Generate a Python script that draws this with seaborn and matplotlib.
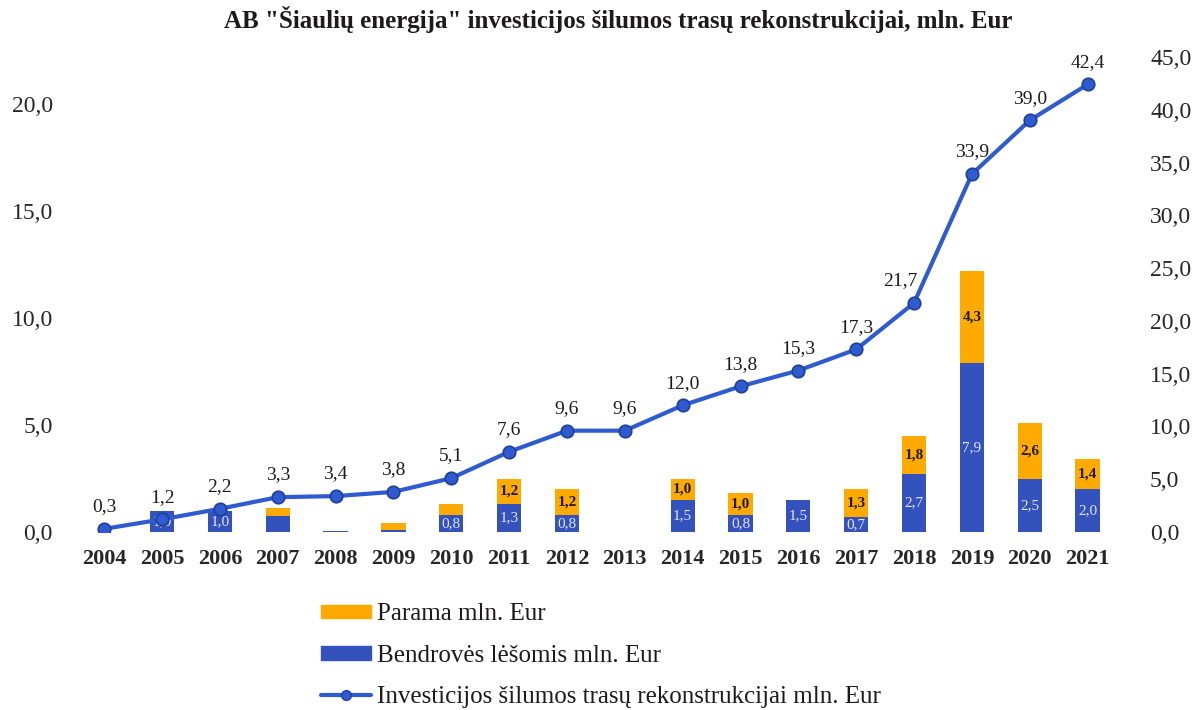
import numpy as np
import pandas as pd
import seaborn as sns
import matplotlib.pyplot as plt
from matplotlib.patches import Patch
from matplotlib.lines import Line2D

# --- data (mln. Eur) ---
years = ['2004', '2005', '2006', '2007', '2008', '2009', '2010', '2011', '2012',
         '2013', '2014', '2015', '2016', '2017', '2018', '2019', '2020', '2021']
own_funds = [0.0, 1.0, 1.0, 0.75, 0.05, 0.1, 0.8, 1.3, 0.8,
             0.0, 1.5, 0.8, 1.5, 0.7, 2.7, 7.9, 2.5, 2.0]
support = [0.0, 0.0, 0.0, 0.35, 0.0, 0.3, 0.5, 1.2, 1.2,
           0.0, 1.0, 1.0, 0.0, 1.3, 1.8, 4.3, 2.6, 1.4]
cumulative = [0.3, 1.2, 2.2, 3.3, 3.4, 3.8, 5.1, 7.6, 9.6,
              9.6, 12.0, 13.8, 15.3, 17.3, 21.7, 33.9, 39.0, 42.4]
# which segments carry a value label
own_labelled = [False, True, True, False, False, False, True, True, True,
                False, True, True, True, True, True, True, True, True]
support_labelled = [False, False, False, False, False, False, False, True, True,
                    False, True, True, False, True, True, True, True, True]

BLUE = '#3452bd'
ORANGE = '#ffaa00'
LINE = '#2f5bd0'
TXT = '#1c1a1a'

sns.set_style('white')
plt.rcParams['font.family'] = ['Liberation Serif', 'DejaVu Serif']
plt.rcParams['text.color'] = TXT

df = pd.DataFrame({'year': years, 'own': own_funds, 'support': support})
df['total'] = df['own'] + df['support']

fig = plt.figure(figsize=(11.99, 7.10), dpi=100)
ax = fig.add_axes([0.058, 0.2507, 0.878, 0.669])

# stacked bars: total in orange, own funds drawn over it in blue
sns.barplot(data=df, x='year', y='total', order=years, color=ORANGE,
            width=0.42, saturation=1, linewidth=0, ax=ax)
sns.barplot(data=df, x='year', y='own', order=years, color=BLUE,
            width=0.42, saturation=1, linewidth=0, ax=ax)

def fmt(v):
    return f'{v:.1f}'.replace('.', ',')

for i in range(len(years)):
    if own_labelled[i]:
        ax.text(i, own_funds[i] / 2, fmt(own_funds[i]), ha='center', va='center',
                fontsize=11, color='#e6e6f5')
    if support_labelled[i]:
        ax.text(i, own_funds[i] + support[i] / 2, fmt(support[i]), ha='center',
                va='center', fontsize=11, fontweight='bold', color=TXT)

ax.set_ylim(0, 22.2)
ax.set_xlim(-0.6, len(years) - 0.4)
ax.set_yticks([0, 5, 10, 15, 20])
ax.set_yticklabels([fmt(v) for v in [0, 5, 10, 15, 20]], fontsize=17)
ax.set_xticks(range(len(years)))
ax.set_xticklabels(years, fontsize=16, fontweight='bold')
ax.tick_params(axis='both', length=0, pad=12)
ax.set_xlabel('')
ax.set_ylabel('')

# cumulative line on the right axis
ax2 = ax.twinx()
sns.lineplot(x=np.arange(len(years)), y=cumulative, ax=ax2, color=LINE,
             linewidth=3, marker='o', markersize=9, markeredgecolor='#1f3f9a',
             markeredgewidth=1.2, markerfacecolor=LINE)
ax2.set_ylim(0, 45)
ticks2 = np.arange(0, 46, 5)
ax2.set_yticks(ticks2)
ax2.set_yticklabels([fmt(v) for v in ticks2], fontsize=17)
ax2.tick_params(axis='y', length=0, pad=20)
ax2.set_xlim(ax.get_xlim())

for i, v in enumerate(cumulative):
    dx = -10 if years[i] == '2018' else 0
    ax2.annotate(fmt(v), (i, v), textcoords='offset points', xytext=(dx, 16),
                 ha='center', va='center', fontsize=14, color=TXT)

for a in (ax, ax2):
    for s in a.spines.values():
        s.set_visible(False)

fig.text(0.516, 0.972, 'AB "Šiaulių energija" investicijos šilumos trasų rekonstrukcijai, mln. Eur',
         ha='center', va='center', fontsize=18, fontweight='bold')

handles = [Patch(color=ORANGE), Patch(color=BLUE),
           Line2D([], [], color=LINE, linewidth=3, marker='o', markersize=7,
                  markerfacecolor=LINE, markeredgecolor='#1f3f9a')]
labels = ['Parama mln. Eur', 'Bendrovės lėšomis mln. Eur',
          'Investicijos šilumos trasų rekonstrukcijai mln. Eur']
fig.legend(handles, labels, loc='upper left', bbox_to_anchor=(0.257, 0.168),
           frameon=False, fontsize=18, handlelength=2.0, handleheight=0.45,
           handletextpad=0.25, labelspacing=0.78, borderpad=0)

fig.savefig('out.png', dpi=100)
